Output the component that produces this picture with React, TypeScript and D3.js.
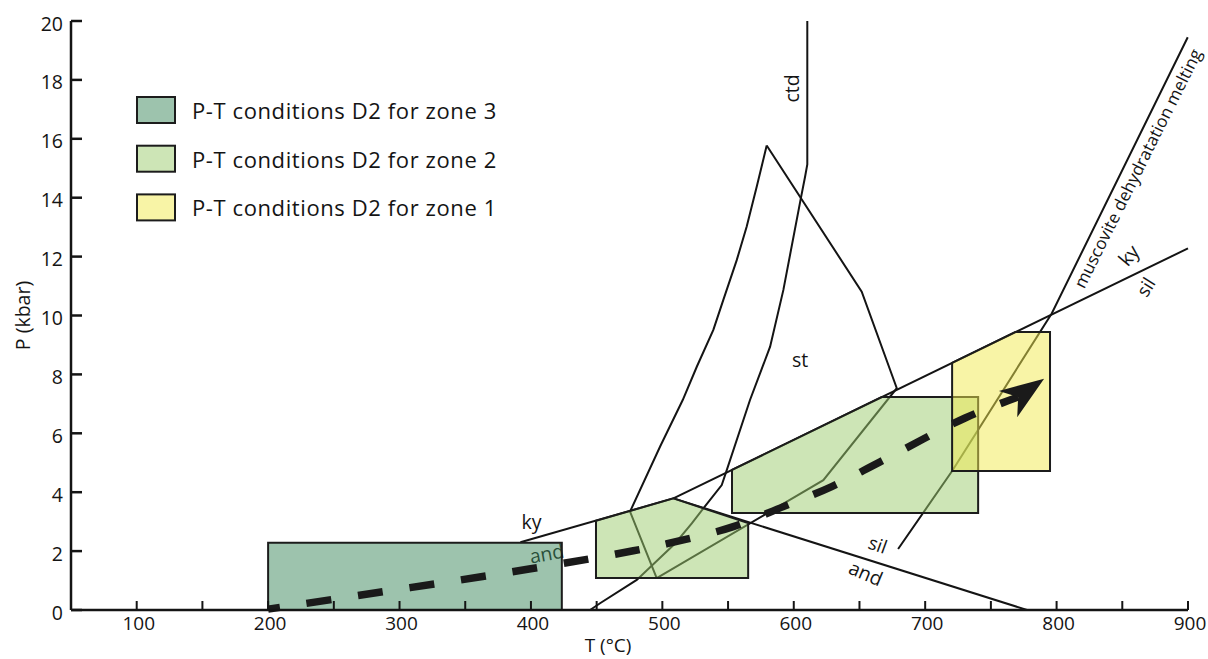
import React from 'react';
import * as d3 from 'd3';

type Pt = [number, number];

// axis ticks
const xTicks = [100, 150, 200, 250, 300, 350, 400, 450, 500, 550, 600, 650, 700, 750, 800, 850, 900];
const xLabels = [100, 200, 300, 400, 500, 600, 700, 800, 900];
const yTicks = [0, 2, 4, 6, 8, 10, 12, 14, 16, 18, 20];

// reaction lines (T °C, P kbar)
const kyAnd: Pt[] = [[392, 2.3], [508.4, 3.79]];
const andSil: Pt[] = [[508.4, 3.79], [777.5, 0]];
const kySil: Pt[] = [[508.4, 3.79], [900, 12.28]];
const ctdLine: Pt[] = [[610.3, 20], [610.3, 15.13], [608.6, 14.71], [605.3, 13.96], [592.1, 10.87], [582, 8.94], [566.7, 7.13], [549, 4.75], [545.2, 4.24], [531.2, 3.45], [522.4, 2.94], [509.7, 2.26], [480.5, 1.02], [452.6, 0.23], [445, 0]];
const stLeft: Pt[] = [[579.4, 15.77], [571.8, 14.37], [564.2, 13.02], [556.6, 11.88], [546.4, 10.53], [538.8, 9.51], [526.2, 8.26], [515.5, 7.13], [498.3, 5.55], [475.4, 3.34], [495.7, 1.08]];
const stRight: Pt[] = [[579.4, 15.77], [651.7, 10.81], [678.4, 7.53], [622.5, 4.41], [495.7, 1.08]];
const muscovite: Pt[] = [[679.4, 2.07], [720.5, 4.72], [796.3, 10.07], [899.8, 19.45]];

// P-T condition fields
const zone3: Pt[] = [[200, 0], [200, 2.28], [423.5, 2.28], [423.5, 0]];
const zone2a: Pt[] = [[449.5, 1.09], [449.5, 3.03], [508.4, 3.79], [565.3, 2.95], [565.3, 1.09]];
const zone2b: Pt[] = [[553, 3.29], [553, 4.76], [666.9, 7.23], [740.3, 7.23], [740.3, 3.29]];
const zone1: Pt[] = [[720.5, 4.72], [720.5, 8.39], [768.6, 9.44], [795, 9.44], [795, 4.72]];

// P-T path
const ptPath: Pt[] = [[200, 0.03], [398.6, 1.39], [477.9, 2.01], [516, 2.38], [554, 2.83], [592.1, 3.51], [628.9, 4.19], [665.7, 5.03], [730.4, 6.52], [790.5, 7.85]];

const legendLabels = ['P-T conditions D2 for zone 3', 'P-T conditions D2 for zone 2', 'P-T conditions D2 for zone 1'];
const zoneColors = ['#3b875b', '#9bcb6d', '#f1e94d'];

const FONT = '"Open Sans", "Noto Sans", sans-serif';

export default function App() {
  const x = d3.scaleLinear().domain([50, 900]).range([71, 1188]);
  const y = d3.scaleLinear().domain([0, 20]).range([610, 21]);
  const line = d3.line<Pt>().x(d => x(d[0])).y(d => y(d[1]));
  const poly = (pts: Pt[]) => line(pts) + 'Z';

  // arrow geometry in pixel space
  const pix = ptPath.map(d => [x(d[0]), y(d[1])] as Pt);
  const tip = pix[pix.length - 1];
  const prev = pix[pix.length - 2];
  const ang = Math.atan2(tip[1] - prev[1], tip[0] - prev[0]) - 0.15;
  const dir: Pt = [Math.cos(ang), Math.sin(ang)];
  const perp: Pt = [-dir[1], dir[0]];
  const L = 44, Wd = 16;
  const base: Pt = [tip[0] - dir[0] * L * 0.72, tip[1] - dir[1] * L * 0.72];
  const headPts: Pt[] = [
    tip,
    [tip[0] - dir[0] * L + perp[0] * Wd, tip[1] - dir[1] * L + perp[1] * Wd],
    base,
    [tip[0] - dir[0] * L - perp[0] * Wd, tip[1] - dir[1] * L - perp[1] * Wd],
  ];
  const dashPts = [...pix.slice(0, -1), base];
  const dashLine = d3.line<Pt>().curve(d3.curveCatmullRom.alpha(0.5))(dashPts) || '';
  const headPath = 'M' + headPts.map(p => p.join(',')).join('L') + 'Z';

  const lineStyle = { fill: 'none', stroke: '#141414', strokeWidth: 2 };
  const zoneStroke = { stroke: '#1c1c1c', strokeWidth: 2, fillOpacity: 0.5 };

  const label = (t: string, T: number, P: number, rot: number, size = 19, ls = 0) => (
    <text
      key={t + T}
      transform={`translate(${x(T)},${y(P)}) rotate(${rot})`}
      textAnchor="middle"
      dominantBaseline="central"
      style={{ fontFamily: FONT, fontSize: size, fill: '#141414', letterSpacing: ls }}
    >
      {t}
    </text>
  );

  return (
    <svg width={1208} height={659} style={{ position: 'absolute', left: 0, top: 0, background: '#fff' }}>
      <rect x={0} y={0} width={1208} height={659} fill="#fff" />
      {/* reaction lines */}
      {[kyAnd, andSil, kySil, ctdLine, stLeft, stRight, muscovite].map((l, i) => (
        <path key={i} d={line(l) || ''} style={lineStyle} />
      ))}
      {/* label under zone 3 fill */}
      {label('and', 412, 1.93, -10, 19.5)}

      {/* zones */}
      <path d={poly(zone3)} fill={zoneColors[0]} {...zoneStroke} />
      <path d={poly(zone2a)} fill={zoneColors[1]} {...zoneStroke} />
      <path d={poly(zone2b)} fill={zoneColors[1]} {...zoneStroke} />
      <path d={poly(zone1)} fill={zoneColors[2]} {...zoneStroke} />

      {/* P-T path */}
      <path d={dashLine} fill="none" stroke="#1a1a1a" strokeWidth={7.5} strokeDasharray="25 27" strokeDashoffset={13} />
      <path d={headPath} fill="#1a1a1a" />

      {/* axes */}
      <line x1={x(50)} x2={x(900)} y1={y(0)} y2={y(0)} stroke="#141414" strokeWidth={2.5} />
      <line x1={x(50)} x2={x(50)} y1={y(0)} y2={y(20)} stroke="#141414" strokeWidth={2.5} />
      {xTicks.map(t => (
        <line key={'xt' + t} x1={x(t)} x2={x(t)} y1={y(0)} y2={y(0) - 9} stroke="#141414" strokeWidth={2} />
      ))}
      {yTicks.map(t => (
        <line key={'yt' + t} x1={x(50)} x2={x(50) + 11} y1={y(t)} y2={y(t)} stroke="#141414" strokeWidth={2.5} />
      ))}
      {xLabels.map(t => (
        <text key={'xl' + t} x={x(t) + 2} y={y(0) + 13} textAnchor="middle" dominantBaseline="central"
          style={{ fontFamily: FONT, fontSize: 19, fill: '#141414' }}>{t}</text>
      ))}
      {yTicks.map(t => (
        <text key={'yl' + t} x={x(50) - 8} y={y(t) + 2} textAnchor="end" dominantBaseline="central"
          style={{ fontFamily: FONT, fontSize: 19.5, fill: '#141414' }}>{t}</text>
      ))}
      <text transform={`translate(22,${y(10)}) rotate(-90)`} textAnchor="middle" dominantBaseline="central"
        style={{ fontFamily: FONT, fontSize: 19.5, fill: '#141414' }}>P (kbar)</text>
      <text x={608} y={645} textAnchor="middle" dominantBaseline="central"
        style={{ fontFamily: FONT, fontSize: 19, fill: '#141414' }}>T (°C)</text>

      {/* annotations */}
      {label('ky', 400.4, 3.0, 0, 19.5)}
      {label('st', 604.8, 8.49, 0, 19.5)}
      {label('ctd', 598.5, 17.71, -90, 19.5)}
      {label('ky', 854.6, 12.05, -50, 19.5)}
      {label('sil', 867.4, 10.98, -58, 18.5)}
      {label('sil', 664.2, 2.24, 20, 18.5)}
      {label('and', 655, 1.26, 23, 19.5)}
      {label('muscovite dehydratation melting', 861.5, 15.0, -63.5, 17, 0.1)}

      {/* legend */}
      {legendLabels.map((t, i) => (
        <g key={t} transform={`translate(137,${97 + i * 48.7})`}>
          <rect x={0} y={0} width={38} height={26} fill={zoneColors[i]} fillOpacity={0.5} stroke="#1c1c1c" strokeWidth={2} />
          <text x={55} y={13} dominantBaseline="central" style={{ fontFamily: FONT, fontSize: 22, fill: '#141414', letterSpacing: 0.6 }}>{t}</text>
        </g>
      ))}
    </svg>
  );
}
